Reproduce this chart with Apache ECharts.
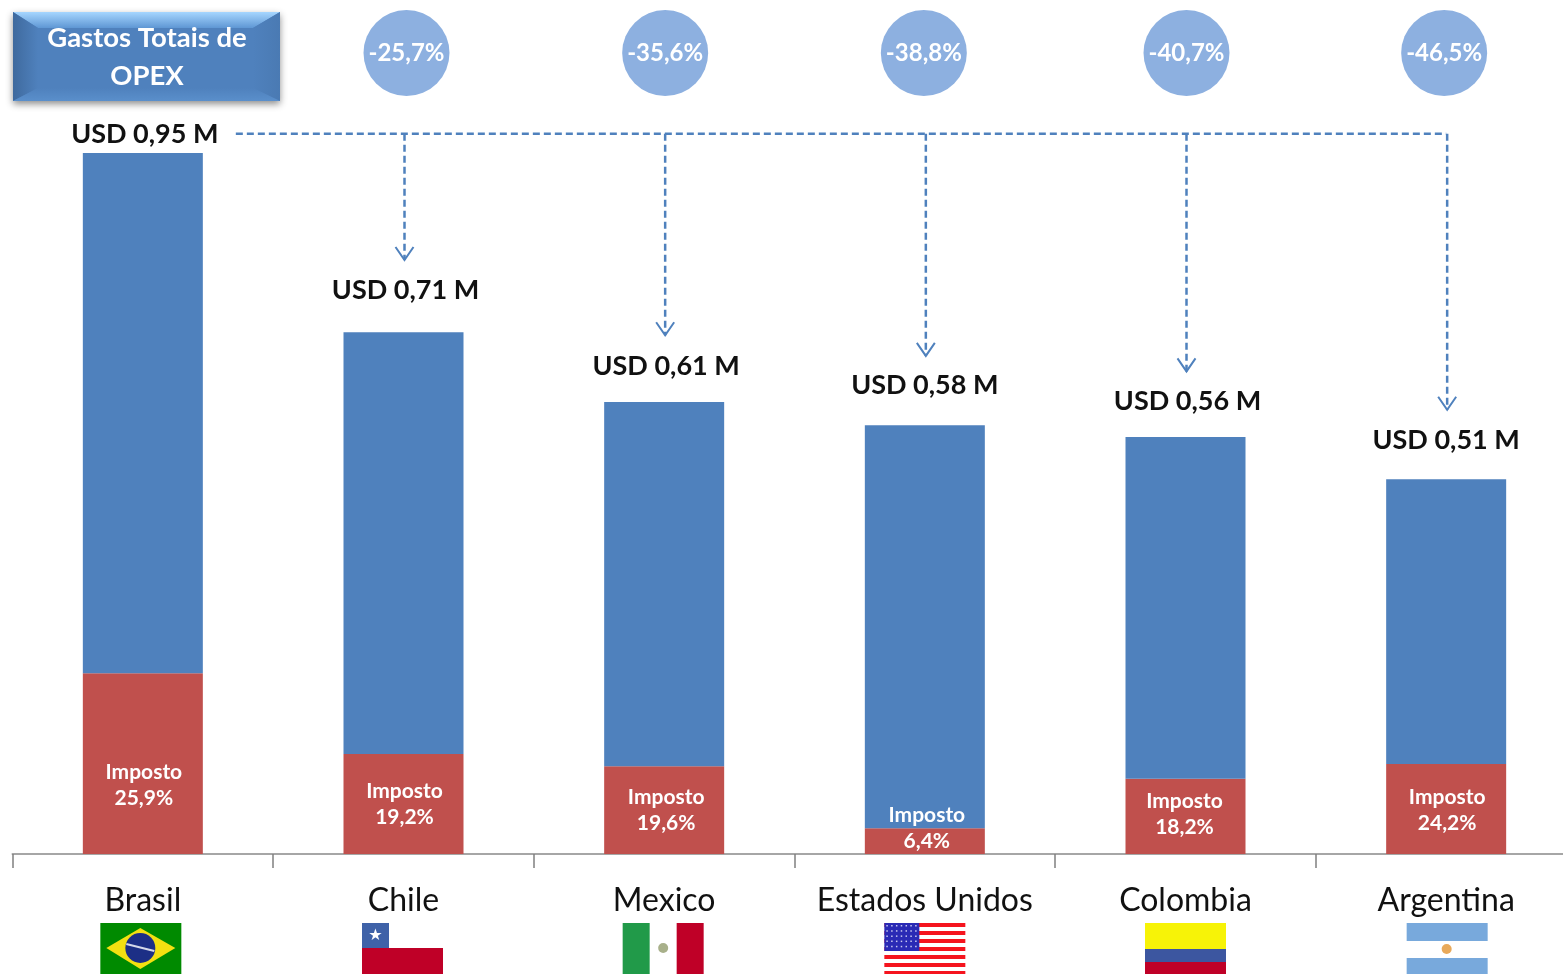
<!DOCTYPE html>
<html><head><meta charset="utf-8">
<style>html,body{margin:0;padding:0;background:#fff}#c{width:1563px;height:974px}</style>
<script src="https://cdn.jsdelivr.net/npm/echarts@6/dist/echarts.min.js"></script>
</head><body><div id="c"></div>
<script>
const categories = ['Brasil','Chile','Mexico','Estados Unidos','Colombia','Argentina'];
const taxValues = [0.245,0.1355,0.119,0.035,0.102,0.122];
const otherValues = [0.705,0.5715,0.4935,0.546,0.463,0.386];
const totalLabels = ['USD 0,95 M','USD 0,71 M','USD 0,61 M','USD 0,58 M','USD 0,56 M','USD 0,51 M'];
const taxLabels = ['25,9%','19,2%','19,6%','6,4%','18,2%','24,2%'];
const deltaLabels = ['-25,7%','-35,6%','-38,8%','-40,7%','-46,5%'];
const connectorTop = 0.976;
const arrowTips = [0.805,0.703,0.675,0.654,0.602];
const FONT = 'Lato';
const BLUE = '#4f81bd', RED = '#c0504d';
const AX_MAX = 1.1573, BUBBLE_Y = 1.0854;
const taxLabelOffset = [[1,22],[1,0],[2,0],[2,-13],[-1,-2],[1,1]];
const totalDist = [5,28,22,26,22,25];
const totalDx = [2,2,2,0,2,0];
const bubbleDx = [3,1,-1,1,-2];

const chart = echarts.init(document.getElementById('c'), null, {renderer:'canvas'});

function rect(x,y,w,h,fill){return {type:'rect',shape:{x,y,width:w,height:h},style:{fill}};}
function flagChildren(i,cx,y){
  const W=81, x=cx-W/2, H=60, c=[];
  if(i===0){
    c.push(rect(x,y,W,H,'#008a00'));
    c.push({type:'polygon',shape:{points:[[x+6,y+25],[x+40,y+5],[x+75,y+25],[x+40,y+46]]},style:{fill:'#f3e011'}});
    c.push({type:'circle',shape:{cx:x+40,cy:y+25,r:15},style:{fill:'#1c2f86'}});
    c.push({type:'line',shape:{x1:x+26,y1:y+21,x2:x+54,y2:y+28},style:{stroke:'#d5d9ea',lineWidth:2}});
  } else if(i===1){
    c.push(rect(x,y,W,25,'#ffffff'));
    c.push(rect(x,y,27,25,'#3f62a8'));
    c.push(rect(x,y+25,W,H,'#bf0027'));
    c.push({type:'text',style:{text:'★',x:x+13.5,y:y+13,fill:'#fff',font:'16px "DejaVu Sans"',align:'center',verticalAlign:'middle'}});
  } else if(i===2){
    c.push(rect(x,y,27,H,'#219a49'));
    c.push(rect(x+54,y,27,H,'#bf0027'));
    c.push({type:'circle',shape:{cx:x+40.5,cy:y+25,r:5},style:{fill:'#a8b08a'}});
  } else if(i===3){
    c.push(rect(x,y,W,H,'#ffffff'));
    for(let s=0;s<9;s++) c.push(rect(x,y+s*8,W,4,'#f5141e'));
    c.push(rect(x,y,35,28,'#2a2ab5'));
    for(let r=0;r<5;r++)for(let k=0;k<7;k++) c.push(rect(x+2+k*4.8,y+2+r*5.2,1.5,1.5,'#c8c8f0'));
  } else if(i===4){
    c.push(rect(x,y,W,26,'#f7f307'));
    c.push(rect(x,y+26,W,13,'#3c56a0'));
    c.push(rect(x,y+39,W,H,'#bf0027'));
  } else {
    c.push(rect(x,y,W,18,'#78a9dc'));
    c.push(rect(x,y+35,W,H,'#78a9dc'));
    c.push({type:'circle',shape:{cx:x+40,cy:y+26,r:5},style:{fill:'#e8a95a'}});
  }
  return c;
}

const option = {
  animation:false,
  backgroundColor:'#fff',
  grid:{left:12.5,top:0,width:1564,height:854,containLabel:false,outerBoundsMode:'none'},
  xAxis:{type:'category',data:categories,
    axisLine:{show:true,lineStyle:{color:'#a6a6a6',width:2}},
    axisTick:{show:true,length:14,lineStyle:{color:'#808080',width:1.5}},
    axisLabel:{fontFamily:FONT,fontSize:32,color:'#111',margin:31,interval:0}},
  yAxis:{type:'value',min:0,max:AX_MAX,show:false,splitLine:{show:false}},
  series:[
    {name:'Imposto',type:'bar',stack:'t',barWidth:120,itemStyle:{color:RED},
     data:taxValues.map((v,i)=>({value:v,label:{show:true,position:'inside',offset:taxLabelOffset[i],
        formatter:'Imposto\n'+taxLabels[i],color:'#fff',fontFamily:FONT,fontWeight:'bold',fontSize:21,lineHeight:26}}))},
    {name:'Outros',type:'bar',stack:'t',barWidth:120,itemStyle:{color:BLUE},
     data:otherValues.map((v,i)=>({value:v,label:{show:true,position:'top',distance:totalDist[i],offset:[totalDx[i],0],
        formatter:totalLabels[i],color:'#111',fontFamily:FONT,fontWeight:'bold',fontSize:27}}))},
    {name:'Variação',type:'scatter',symbol:'circle',symbolSize:86,itemStyle:{color:'#8db0e0',opacity:1},
     data:deltaLabels.map((t,i)=>({value:[i+1,BUBBLE_Y],symbolOffset:[bubbleDx[i],0],
        label:{show:true,position:'inside',formatter:t,color:'#fff',fontFamily:FONT,fontWeight:'bold',fontSize:24}}))},
    {name:'Conector',type:'custom',silent:true,clip:false,z:5,
     data:arrowTips.map((t,i)=>[i+1,t]),
     renderItem(params,api){
       const i=api.value(0), tip=api.coord([i,api.value(1)]), top=api.coord([i,connectorTop]);
       const st={stroke:BLUE,lineWidth:2.5,lineDash:[7,4],fill:'none'};
       const kids=[
         {type:'line',shape:{x1:tip[0]+1,y1:top[1],x2:tip[0]+1,y2:tip[1]},style:st},
         {type:'polyline',shape:{points:[[tip[0]-8,tip[1]-13],[tip[0]+1,tip[1]],[tip[0]+10,tip[1]-13]]},style:{stroke:BLUE,lineWidth:2,fill:'none'}}
       ];
       if(i===1){
         const a=api.coord([0,connectorTop]), b=api.coord([5,connectorTop]);
         kids.push({type:'line',shape:{x1:a[0]+93,y1:a[1],x2:b[0],y2:b[1]},style:st});
       }
       return {type:'group',children:kids};
     }},
    {name:'Bandeiras',type:'custom',silent:true,clip:false,z:5,
     data:categories.map((c,i)=>[i,0]),
     renderItem(params,api){
       const i=api.value(0), p=api.coord([i,0]);
       const dx=[-2,-1,-1,0,0,1][i];
       return {type:'group',children:flagChildren(i,p[0]+dx,p[1]+69)};
     }}
  ],
  graphic:[
    {type:'rect',z:1,shape:{x:13,y:12,width:267,height:89},style:{fill:BLUE,shadowBlur:7,shadowColor:'rgba(0,0,0,0.45)',shadowOffsetY:3}},
    {type:'polygon',z:2,shape:{points:[[13,12],[280,12],[253,28],[38,28]]},
      style:{fill:{type:'linear',x:0,y:0,x2:0,y2:1,colorStops:[{offset:0,color:'#a6d6ff'},{offset:1,color:'#5f97d4'}]}}},
    {type:'polygon',z:2,shape:{points:[[13,12],[38,28],[38,88],[13,101]]},
      style:{fill:{type:'linear',x:0,y:0,x2:1,y2:0,colorStops:[{offset:0,color:'#3f6a9e'},{offset:1,color:'#4f81bd'}]}}},
    {type:'polygon',z:2,shape:{points:[[280,12],[253,28],[253,88],[280,101]]},
      style:{fill:{type:'linear',x:0,y:0,x2:1,y2:0,colorStops:[{offset:0,color:'#4f81bd'},{offset:1,color:'#4a7ab3'}]}}},
    {type:'polygon',z:2,shape:{points:[[13,101],[38,88],[253,88],[280,101]]},
      style:{fill:{type:'linear',x:0,y:0,x2:0,y2:1,colorStops:[{offset:0,color:'#4f81bd'},{offset:1,color:'#5a8fcb'}]}}},
    {type:'text',z:3,style:{text:'Gastos Totais de',x:147,y:38,align:'center',verticalAlign:'middle',fill:'#fff',font:'bold 27.5px '+FONT}},
    {type:'text',z:3,style:{text:'OPEX',x:147,y:76,align:'center',verticalAlign:'middle',fill:'#fff',font:'bold 27.5px '+FONT}}
  ]
};
chart.setOption(option);
</script></body></html>
